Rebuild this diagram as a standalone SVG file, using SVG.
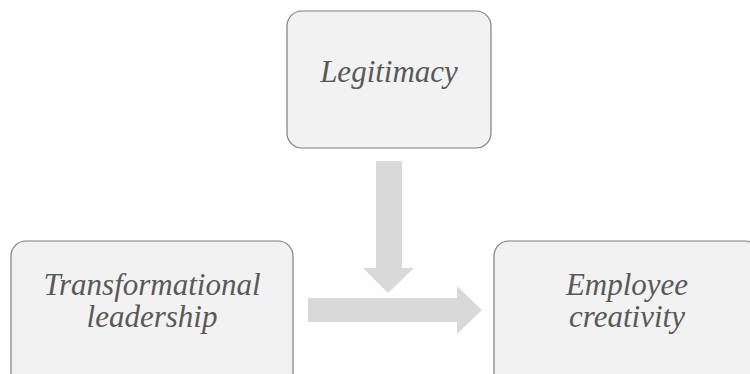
<svg xmlns="http://www.w3.org/2000/svg" width="750" height="374" viewBox="0 0 750 374">
<style>
.box{fill:#f2f2f2;stroke:#7f7f7f;stroke-width:1.2}
.lbl{font-family:"Liberation Serif",serif;font-style:italic;font-size:31px;fill:#595959;text-anchor:middle}
.arr{fill:#d9d9d9}
</style>
<rect width="750" height="374" fill="#ffffff"/>
<g id="connectors">
<polygon class="arr" points="376,161 402,161 402,268 414,268 388,293 363,268 376,268"/>
<polygon class="arr" points="308,298 457,298 457,286 482,310 457,334 457,322 308,322"/>
</g>
<g id="legitimacy">
<rect class="box" x="287" y="11" width="204" height="137" rx="15"/>
<text class="lbl" x="389" y="82">Legitimacy</text>
</g>
<g id="transformational-leadership">
<rect class="box" x="11" y="241" width="282" height="160" rx="15"/>
<text class="lbl" x="152" y="295">Transformational</text>
<text class="lbl" x="152" y="327">leadership</text>
</g>
<g id="employee-creativity">
<rect class="box" x="494" y="241" width="266" height="160" rx="15"/>
<text class="lbl" x="627" y="295">Employee</text>
<text class="lbl" x="627" y="327">creativity</text>
</g>
</svg>
